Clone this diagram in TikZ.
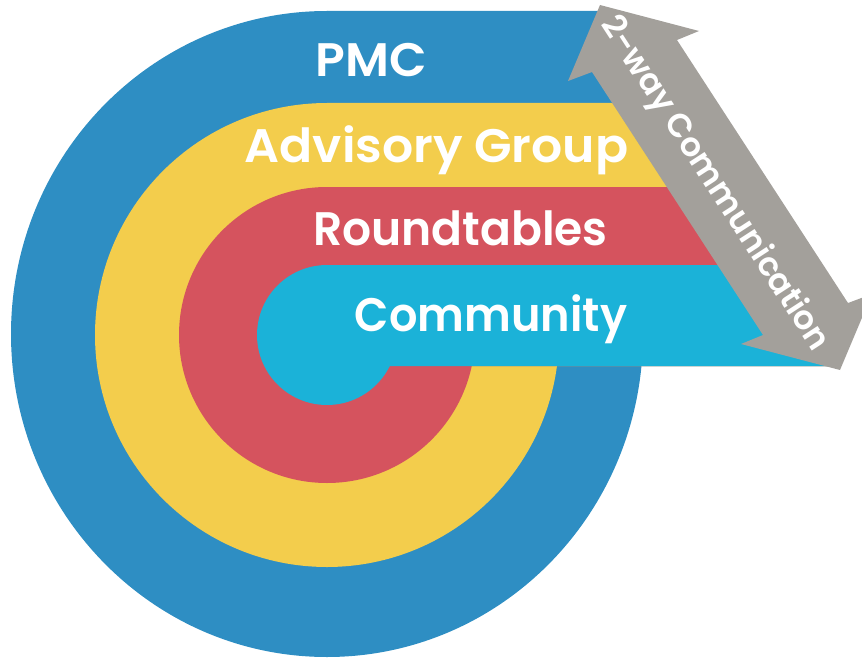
\documentclass[tikz,border=0pt]{standalone}
\usepackage{fontspec}
\setmainfont{Poppins}[BoldFont={* SemiBold}]
\definecolor{pmcblue}{HTML}{2E8EC3}
\definecolor{advyellow}{HTML}{F3CD4C}
\definecolor{rtred}{HTML}{D5535E}
\definecolor{commcyan}{HTML}{1BB2D8}
\definecolor{arrowgray}{HTML}{A3A09B}
\tikzset{
  bandlabel/.style={text=white, font=\bfseries\fontsize{47}{50}\selectfont, inner sep=0pt, anchor=base},
  arrowlabel/.style={text=white, font=\bfseries\fontsize{33}{36}\selectfont, inner sep=0pt}
}
\begin{document}
\begin{tikzpicture}[x=1pt,y=-1pt]
\useasboundingbox (0,0) rectangle (862,658);
\clip (0,0) rectangle (862,658);

% outer ring: PMC
\fill[pmcblue] (327,334) ellipse [x radius=316, y radius=323];
\fill[pmcblue] (327,11) -- (598,11) -- (831.4,366) -- (327,366) -- cycle;

% Advisory Group
\fill[advyellow] (327,335) circle [radius=232];
\fill[advyellow] (327,103) -- (658.5,103) -- (831.4,366) -- (327,366) -- cycle;

% Roundtables
\fill[rtred] (327,335) circle [radius=148];
\fill[rtred] (327,187) -- (713.7,187) -- (831.4,366) -- (327,366) -- cycle;

% Community
\fill[commcyan] (327,335) circle [radius=70];
\fill[commcyan] (327,265) -- (765,265) -- (831.4,366) -- (327,366) -- cycle;

% double-headed arrow
\fill[arrowgray] (600,5) -- (699,31) -- (677,40) -- (848,303) -- (872,294)
  -- (840,370) -- (741,344) -- (763,335) -- (592,72) -- (568,81) -- cycle;

% labels
\node[bandlabel, xscale=1.04] (pmc) at (371,77) {PMC};
\node[bandlabel, xscale=1.04] (adv) at (436.5,162) {Advisory Group};
\node[bandlabel, xscale=0.97] (rt) at (460.5,245) {Roundtables};
\node[bandlabel, xscale=0.95] (comm) at (491,331) {Community};
\node[arrowlabel, rotate=-57] (way) at (714,184) {2-way Communication};
\end{tikzpicture}
\end{document}
